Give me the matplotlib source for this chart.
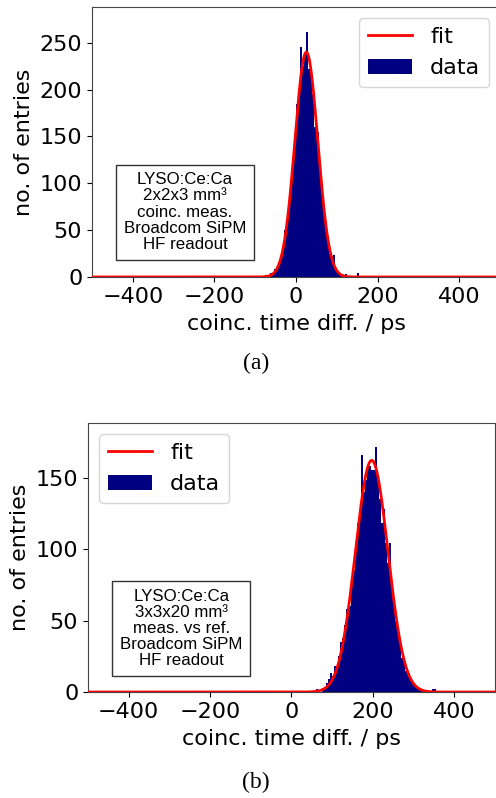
import matplotlib.pyplot as plt
import numpy as np

# histogram (a): 5 ps bins starting at -90 ps
edges_a_start = -90
bin_w = 5
counts_a = [1, 1, 0, 2, 1, 4, 3, 8, 7, 16,
            19, 31, 50, 58, 72, 100, 128, 150, 185, 195,
            245, 225, 238, 262, 222, 220, 195, 160, 155, 118,
            98, 70, 60, 40, 25, 22, 24, 10, 5, 4,
            2, 2, 3, 1, 0, 0, 0, 0, 4, 0]
fit_a = (240, 25, 28)  # amplitude, mean, sigma

# histogram (b): 5 ps bins starting at 60 ps
edges_b_start = 60
counts_b = [2, 1, 0, 3, 2, 6, 9, 13, 11, 18,
            16, 25, 35, 38, 47, 58, 60, 80, 85, 102,
            118, 125, 166, 140, 148, 158, 158, 155, 155, 171,
            148, 135, 118, 128, 104, 90, 104, 72, 62, 50,
            45, 36, 24, 22, 15, 13, 9, 6, 4, 4,
            2, 2, 1, 1, 0, 0, 1, 2, 2, 0]
fit_b = (162, 197, 40)

label_a = "LYSO:Ce:Ca\n2x2x3 mm³\ncoinc. meas.\nBroadcom SiPM\nHF readout"
label_b = "LYSO:Ce:Ca\n3x3x20 mm³\nmeas. vs ref.\nBroadcom SiPM\nHF readout"


def panel(ax, start, counts, fit, label, legend_loc, box_xy):
    counts = np.array(counts)
    edges = start + bin_w * np.arange(len(counts) + 1)
    x = np.linspace(-500, 500, 2001)
    amp, mu, sig = fit
    ax.plot(x, amp * np.exp(-(x - mu) ** 2 / (2 * sig ** 2)), color='red', lw=2, label='fit', zorder=3)
    ax.hist(edges[:-1], bins=edges, weights=counts, color='navy', label='data', zorder=2)
    ax.set_xlim(-500, 500)
    ax.set_ylim(0, 1.1 * counts.max())
    ax.set_xticks([-400, -200, 0, 200, 400])
    ax.set_xlabel('coinc. time diff. / ps', fontsize=16, labelpad=5)
    ax.set_ylabel('no. of entries', fontsize=16, labelpad=4)
    ax.tick_params(labelsize=16)
    for s in ax.spines.values():
        s.set_color('#444444')
    ax.legend(loc=legend_loc, fontsize=16)
    ax.text(box_xy[0], box_xy[1], label, transform=ax.transAxes, ha='center', va='center',
            multialignment='center', fontsize=12.2, family='Liberation Sans', linespacing=1.1,
            bbox=dict(boxstyle='square,pad=0.45', fc='white', ec='#333333', lw=1))


fig = plt.figure(figsize=(4.96, 7.98), dpi=100)

ax1 = fig.add_axes([0.1855, 0.6529, 0.823, 0.3383])
panel(ax1, edges_a_start, counts_a, fit_a, label_a, 'upper right', (0.228, 0.24))

ax2 = fig.add_axes([0.1774, 0.1328, 0.8206, 0.3371])
panel(ax2, edges_b_start, counts_b, fit_b, label_b, 'upper left', (0.229, 0.236))

fig.text(0.516, 1 - 363 / 798, '(a)', ha='center', va='center', fontsize=17, family='Liberation Serif')
fig.text(0.516, 1 - 782 / 798, '(b)', ha='center', va='center', fontsize=17, family='Liberation Serif')

fig.savefig('out.png', dpi=100)
